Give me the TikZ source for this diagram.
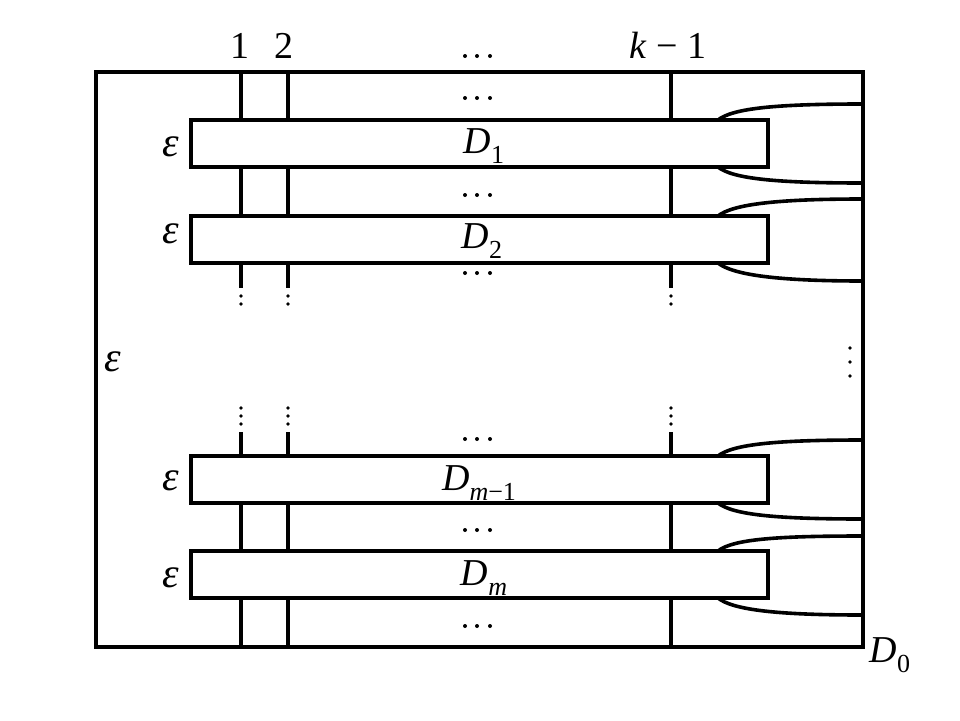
\documentclass[tikz,border=0pt]{standalone}
\usepackage{fontspec}
\setmainfont{Liberation Serif}
\newcommand\Dlab[1]{\textit{D}\raisebox{-10pt}{\fontsize{26}{26}\selectfont #1}}
\begin{document}
\begin{tikzpicture}[x=1pt,y=-1pt,
  lw/.style={line width=3.6pt},
  dbox/.style={draw,line width=3.6pt,fill=white,minimum width=577pt,minimum height=47pt,inner sep=0pt,outer sep=0pt,anchor=north west},
  big/.style={font=\fontsize{38}{40}\selectfont,inner sep=0pt,anchor=base},
  eps/.style={font=\fontsize{42}{44}\selectfont\itshape,inner sep=0pt},
  dotc/.style={fill=black}
]
\useasboundingbox (0,0) rectangle (960,720);
% outer box
\node[draw,lw,minimum width=767pt,minimum height=575pt,inner sep=0pt,outer sep=0pt,anchor=north west] (outer) at (96,72) {};
% vertical strands
\foreach \i/\x in {1/241,2/288,3/671}{
  \coordinate (v\i t) at (\x,72);
  \coordinate (v\i a) at (\x,288);
  \coordinate (v\i b) at (\x,432);
  \coordinate (v\i e) at (\x,647);
  \draw[lw] (v\i t) -- (v\i a);
  \draw[lw] (v\i b) -- (v\i e);
  \foreach \y in {296,304,408,416,424}{\fill[dotc] (\x,\y) circle[radius=1.9pt];}
}
% horizontal dots
\foreach \y in {56,98,195,273,439,530,626}{
  \foreach \x in {465,477,490}{\fill[dotc] (\x,\y) circle[radius=2pt];}
}
% right vertical dots
\foreach \y in {348,362,376}{\fill[dotc] (850,\y) circle[radius=1.9pt];}
% boxes
\node[dbox] (d1) at (191,120) {};
\node[dbox] (d2) at (191,216) {};
\node[dbox] (d3) at (191,456) {};
\node[dbox] (d4) at (191,551) {};
% wall points
\coordinate (w1t) at (863,104);
\coordinate (w1b) at (863,183);
\coordinate (w2t) at (863,199);
\coordinate (w2b) at (863,281);
\coordinate (w3t) at (863,440);
\coordinate (w3b) at (863,519);
\coordinate (w4t) at (863,536);
\coordinate (w4b) at (863,615);
\foreach \b in {1,2,3,4}{
  \draw[lw] ([xshift=-50pt]d\b.north east) .. controls +(15,-12) and +(-85,0) .. (w\b t);
  \draw[lw] ([xshift=-50pt]d\b.south east) .. controls +(15,12) and +(-85,0) .. (w\b b);
}
% labels
\node[big] (n1) at (240,58) {1};
\node[big] (n2) at (284,58) {2};
\node[big] (nk) at (668,58) {\textit{k} − 1};
\node[big] (l1) at (484,153) {\Dlab{1}};
\node[big] (l2) at (482,248) {\Dlab{2}};
\node[big] (l3) at (479,490) {\Dlab{\textit{m}−1}};
\node[big] (l4) at (484,585) {\Dlab{\textit{m}}};
\node[big] (l0) at (890,662) {\Dlab{0}};
\node[eps] (e1) at (171,147) {ε};
\node[eps] (e2) at (171,234) {ε};
\node[eps] (e3) at (171,481) {ε};
\node[eps] (e4) at (171,578) {ε};
\node[eps] (e0) at (113,362) {ε};
\end{tikzpicture}
\end{document}
